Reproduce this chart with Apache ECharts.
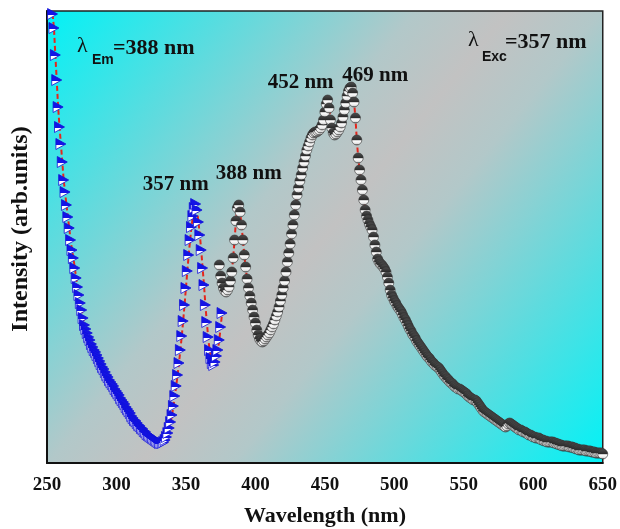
<!DOCTYPE html>
<html>
<head>
<meta charset="utf-8">
<script src="https://cdn.jsdelivr.net/npm/echarts@6/dist/echarts.min.js"></script>
<style>html,body{margin:0;padding:0;background:#fff;}#c{width:620px;height:529px;}</style>
</head>
<body>
<div id="c"></div>
<script>
// Excitation spectrum (λEm = 388 nm), 1 nm steps starting at 254 nm
const exStart = 254;
const exValues = [
  449,435,408,383,356,336,319,301,283,271,258,246,235,223,213,205,195,185,176,168,
  160,153,145,138,134,130,126,123,119,116,113,111,108,105,102,99,96,94,91,88,
  86,83,81,79,77,74,72,70,68,65,63,61,59,56,54,52,50,47,45,43,
  42,40,38,37,35,34,32,31,29,28,27,26,25,24,23,22,21,20,20,20,
  21,23,26,30,35,41,48,57,67,77,88,100,113,127,142,158,175,192,208,223,
  236,247,255,259,253,241,228,213,195,178,158,141,126,113,105,100,98,101,107,113,
  123,136,150
];
// Emission spectrum (λExc = 357 nm), 1 nm steps starting at 374 nm
const emStart = 374;
const emValues = [
  198,187,180,175,172,171,173,176,182,191,205,223,242,255,258,251,238,223,208,196,
  184,175,167,160,153,146,140,133,128,124,122,121,122,124,126,128,130,133,136,139,
  143,147,151,156,162,168,175,182,191,201,210,219,229,238,248,258,268,275,282,288,
  295,301,307,313,317,321,325,328,330,331,331,332,333,335,338,343,351,359,363,355,
  343,335,330,328,329,331,333,336,340,346,353,360,367,372,375,376,370,361,345,323,
  305,293,283,273,263,253,247,243,239,236,233,226,218,211,204,201,199,198,196,194,
  191,186,180,173,168,165,162,160,157,155,153,151,148,145,143,140,137,134,132,129,
  127,125,122,120,118,116,114,112,110,108,106,105,103,101,100,98,97,96,95,93,
  91,89,87,86,84,83,81,80,79,77,76,75,74,74,73,72,71,70,69,67,
  66,65,64,63,63,62,60,58,56,54,52,51,50,49,48,47,46,45,44,43,
  42,41,40,39,38,37,36,37,39,40,39,38,37,36,35,34,33,33,32,31,
  31,30,29,28,28,27,26,26,25,25,25,24,23,23,22,22,21,21,21,21,
  21,20,20,19,19,18,18,17,17,17,17,17,16,16,16,15,15,14,14,13,
  13,13,13,13,12,12,12,12,11,11,11,10,10,10,10,10,9
];
const xTicks = [250, 300, 350, 400, 450, 500, 550, 600, 650];
const peakLabels = [
  { text: '357 nm', wl: 357 },
  { text: '388 nm', wl: 388 },
  { text: '452 nm', wl: 452 },
  { text: '469 nm', wl: 469 }
];

const exData = exValues.map((v, i) => [exStart + i, v]);
const emData = emValues.map((v, i) => [emStart + i, v]);

const serif = '"Liberation Serif","Times New Roman",serif';
const sans = '"Liberation Sans",Arial,sans-serif';

const chart = echarts.init(document.getElementById('c'), null, { renderer: 'canvas' });

const sphereColor = new echarts.graphic.LinearGradient(0, 0, 0, 1, [
  { offset: 0, color: '#505050' },
  { offset: 0.5, color: '#2a2a2a' },
  { offset: 0.56, color: '#ffffff' },
  { offset: 0.82, color: '#e8e8e8' },
  { offset: 1, color: '#444444' }
]);
const triColor = new echarts.graphic.LinearGradient(0, 0, 0, 1, [
  { offset: 0, color: '#1414e6' },
  { offset: 0.55, color: '#1414e6' },
  { offset: 0.58, color: '#ffffff' },
  { offset: 1, color: '#ffffff' }
]);
const bg = new echarts.graphic.LinearGradient(0, 0, 1, 1, [
  { offset: 0, color: '#02f2f6' },
  { offset: 0.2, color: '#5adcdf' },
  { offset: 0.4, color: '#b2c8c9' },
  { offset: 0.5, color: '#c2c2c2' },
  { offset: 0.6, color: '#b2c8c9' },
  { offset: 0.8, color: '#5adcdf' },
  { offset: 1, color: '#02f2f6' }
]);

const option = {
  animation: false,
  backgroundColor: '#ffffff',
  grid: {
    left: 47, right: 16, top: 11, bottom: 66,
    show: true, backgroundColor: bg, borderColor: '#222', borderWidth: 1.5
  },
  xAxis: {
    type: 'value', min: 250, max: 650, interval: 50,
    axisLine: { show: true, lineStyle: { color: '#111', width: 2 } },
    axisTick: { show: false },
    splitLine: { show: false },
    axisLabel: {
      margin: 13, fontFamily: serif, fontWeight: 'bold', fontSize: 19, color: '#111',
      formatter: v => (xTicks.indexOf(v) >= 0 ? String(v) : '')
    }
  },
  yAxis: {
    type: 'value', min: 0, max: 452,
    axisLine: { show: true, lineStyle: { color: '#111', width: 2 } },
    axisTick: { show: false }, axisLabel: { show: false }, splitLine: { show: false }
  },
  series: [
    {
      type: 'line', data: exData, clip: true,
      symbol: 'path://M0,0L10,5L0,10Z', symbolSize: [10, 11], symbolKeepAspect: false,
      itemStyle: { color: triColor, borderColor: '#1010d8', borderWidth: 0.8 },
      lineStyle: { color: '#e4261c', width: 2, type: [5, 3] }
    },
    {
      type: 'line', data: emData, clip: true,
      symbol: 'circle', symbolSize: 10,
      itemStyle: { color: sphereColor, borderColor: '#333', borderWidth: 0.6 },
      lineStyle: { color: '#e4261c', width: 2, type: [5, 3] }
    }
  ],
  graphic: []
};
chart.setOption(option);

// Text annotations
const g = [];
const txt = (x, y, text, font, align, rot) => ({
  type: 'text', x: x, y: y, rotation: rot || 0, silent: true,
  style: { text: text, font: font, fill: '#111', align: align || 'left', verticalAlign: 'middle' }
});
g.push(txt(77, 46, 'λ', '22px ' + serif));
g.push(txt(92, 60, 'Em', 'bold 14px ' + sans));
g.push(txt(113, 48, '=388 nm', 'bold 22px ' + serif));
g.push(txt(468, 40, 'λ', '22px ' + serif));
g.push(txt(482, 57, 'Exc', 'bold 14px ' + sans));
g.push(txt(505, 42, '=357 nm', 'bold 22px ' + serif));
const peakY = { 357: 185, 388: 174, 452: 83, 469: 76 };
const peakDx = { 357: -20, 388: 10, 452: -27, 469: 24 };
peakLabels.forEach(p => {
  const px = chart.convertToPixel({ xAxisIndex: 0 }, p.wl);
  g.push(txt(px + peakDx[p.wl], peakY[p.wl], p.text, 'bold 21px ' + serif, 'center'));
});
g.push(txt(325, 516, 'Wavelength (nm)', 'bold 22px ' + serif, 'center'));
g.push(txt(21, 229, 'Intensity (arb.units)', 'bold 24px ' + serif, 'center', Math.PI / 2));
chart.setOption({ graphic: g });
</script>
</body>
</html>
